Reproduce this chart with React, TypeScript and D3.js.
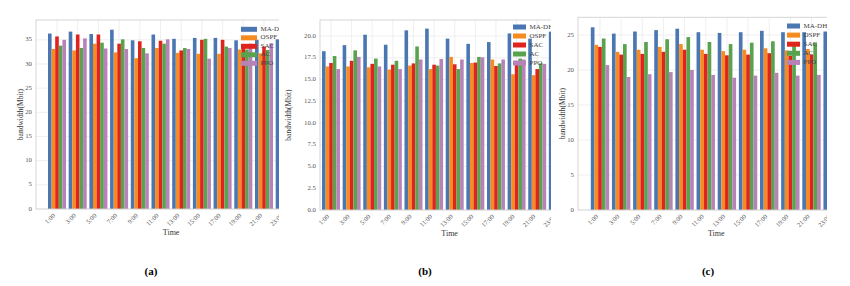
import React from 'react';
import * as d3 from 'd3';

const categories = ["1:00", "3:00", "5:00", "7:00", "9:00", "11:00", "13:00", "15:00", "17:00", "19:00", "21:00", "23:00"];
const seriesNames = ["MA-DH", "OSPF", "SAC", "AC", "PPO"];
const colors = ["#4a77b2", "#f68b1f", "#e0231c", "#59a34f", "#b782b8"];

// Panel (a)
const maDH_a = [36.3, 36.7, 36.2, 37.1, 34.9, 36.1, 35.2, 35.4, 35.4, 34.9, 35.0, 35.1];
const ospf_a = [33.1, 32.8, 34.2, 32.4, 31.2, 33.3, 32.3, 32.1, 32.1, 33.0, 32.2, 32.5];
const sac_a = [35.7, 36.1, 36.1, 34.2, 34.7, 34.8, 32.8, 35.0, 35.0, 33.6, 33.6, 34.0];
const ac_a = [33.8, 33.3, 34.4, 35.1, 33.3, 34.2, 33.3, 35.2, 33.6, 33.0, 32.9, 33.5];
const ppo_a = [35.0, 35.3, 33.2, 33.1, 32.2, 35.1, 33.1, 31.1, 33.3, 34.2, 34.3, 33.8];

// Panel (b)
const maDH_b = [18.25, 18.95, 20.15, 19.0, 20.65, 20.85, 19.7, 19.1, 19.3, 20.3, 19.7, 20.5];
const ospf_b = [16.5, 16.5, 16.4, 16.15, 16.6, 16.2, 17.6, 16.9, 17.3, 15.6, 15.5, 16.0];
const sac_b = [16.9, 17.15, 16.8, 16.7, 16.85, 16.7, 16.75, 16.95, 16.55, 16.7, 16.2, 16.5];
const ac_b = [17.7, 18.35, 17.4, 17.15, 18.8, 16.6, 16.2, 17.6, 16.85, 17.4, 16.85, 17.0];
const ppo_b = [16.2, 17.6, 16.5, 16.2, 17.3, 17.35, 17.3, 17.55, 17.3, 17.3, 16.8, 17.0];

// Panel (c)
const maDH_c = [26.1, 25.2, 25.5, 25.7, 25.9, 25.4, 25.3, 25.4, 25.6, 25.4, 25.4, 25.5];
const ospf_c = [23.6, 22.6, 22.9, 23.3, 23.7, 22.9, 22.7, 22.9, 23.1, 22.8, 23.0, 22.9];
const sac_c = [23.3, 22.2, 22.3, 22.6, 22.9, 22.3, 22.1, 22.2, 22.4, 22.0, 22.2, 22.3];
const ac_c = [24.5, 23.7, 24.0, 24.4, 24.7, 24.0, 23.7, 23.9, 24.1, 23.6, 23.9, 24.0];
const ppo_c = [20.7, 19.0, 19.4, 19.7, 20.0, 19.3, 18.9, 19.2, 19.6, 19.2, 19.3, 19.4];

const yTicksA = [0, 5, 10, 15, 20, 25, 30, 35];
const yTicksB = [0, 2.5, 5, 7.5, 10, 12.5, 15, 17.5, 20];
const yTicksC = [0, 5, 10, 15, 20, 25];

const yLabelText = "bandwidth(Mbit)";
const xLabelText = "Time";

const FONT = "'Liberation Serif', 'Times New Roman', serif";

const panels = [
  {
    id: "a", tag: "(a)", series: [maDH_a, ospf_a, sac_a, ac_a, ppo_a], yMax: 39.1, yTicks: yTicksA, fmt: d3.format("d"),
    left: 36, top: 20, bottom: 209, c0: 57, step: 20.7, clipL: 0, clipR: 279,
    yLabelX: 21, tagX: 151, legendX: 241, legendY: 29.3, legendDy: 8.5, patchW: 16,
  },
  {
    id: "b", tag: "(b)", series: [maDH_b, ospf_b, sac_b, ac_b, ppo_b], yMax: 21.84, yTicks: yTicksB, fmt: d3.format(".1f"),
    left: 320, top: 20, bottom: 210, c0: 331, step: 20.62, clipL: 282, clipR: 551,
    yLabelX: 289.5, tagX: 425, legendX: 513, legendY: 27, legendDy: 9, patchW: 13,
  },
  {
    id: "c", tag: "(c)", series: [maDH_c, ospf_c, sac_c, ac_c, ppo_c], yMax: 27.53, yTicks: yTicksC, fmt: d3.format("d"),
    left: 578, top: 17.3, bottom: 210, c0: 600, step: 21.15, clipL: 556, clipR: 827,
    yLabelX: 563, tagX: 708, legendX: 787, legendY: 26, legendDy: 9.1, patchW: 13,
  },
];

function Panel({ p }: { p: any }) {
  const x = d3.scaleBand<string>()
    .domain(categories)
    .range([p.c0 - p.step / 2, p.c0 - p.step / 2 + categories.length * p.step])
    .padding(0);
  const groupW = p.step * 0.87;
  const xi = d3.scaleBand<string>().domain(seriesNames).range([-groupW / 2, groupW / 2]).padding(0);
  const y = d3.scaleLinear().domain([0, p.yMax]).range([p.bottom, p.top]);
  const right = p.c0 + 12.04 * p.step;
  const center = (c: string) => (x(c) as number) + x.bandwidth() / 2;
  const plotMidY = (p.top + p.bottom) / 2;
  const xLabelX = (p.left + right) / 2;

  return (
    <g>
      <defs>
        <clipPath id={`clip-${p.id}`}>
          <rect x={p.clipL} y={0} width={p.clipR - p.clipL} height={262} />
        </clipPath>
      </defs>
      <g clipPath={`url(#clip-${p.id})`}>
        {/* grid */}
        {p.yTicks.map((t: number) => (
          <line key={`gy${t}`} x1={p.left} x2={right} y1={y(t)} y2={y(t)} stroke="#ebebeb" strokeWidth={0.8} />
        ))}
        {categories.map((c) => (
          <line key={`gx${c}`} x1={center(c)} x2={center(c)} y1={p.top} y2={p.bottom} stroke="#ebebeb" strokeWidth={0.8} />
        ))}
        {/* bars */}
        {seriesNames.map((s, si) => (
          <g key={s}>
            {categories.map((c, ci) => (
              <rect
                key={c}
                x={center(c) + (xi(s) as number)}
                y={y(p.series[si][ci])}
                width={xi.bandwidth()}
                height={p.bottom - y(p.series[si][ci])}
                fill={colors[si]}
              />
            ))}
          </g>
        ))}
        {/* spines */}
        <rect x={p.left} y={p.top} width={right - p.left} height={p.bottom - p.top} fill="none" stroke="#d2d2d2" strokeWidth={0.9} />
        {/* x tick labels */}
        {categories.map((c) => {
          const px = center(c) - 2.5;
          const py = p.bottom + 6;
          return (
            <text key={`xt${c}`} x={px} y={py} transform={`rotate(-45 ${px} ${py})`} textAnchor="end"
              dominantBaseline="middle" fontSize={6.5} fill="#555" fontFamily={FONT}>{c}</text>
          );
        })}
        {/* y tick labels */}
        {p.yTicks.map((t: number) => (
          <text key={`yt${t}`} x={p.left - 4} y={y(t)} textAnchor="end" dominantBaseline="middle"
            fontSize={6.8} fill="#555" fontFamily={FONT}>{p.fmt(t)}</text>
        ))}
        {/* axis labels */}
        <text x={p.yLabelX} y={plotMidY} transform={`rotate(-90 ${p.yLabelX} ${plotMidY})`} textAnchor="middle"
          dominantBaseline="middle" fontSize={7.5} fill="#333" fontFamily={FONT}>{yLabelText}</text>
        <text x={xLabelX} y={p.bottom + 26} textAnchor="middle" fontSize={8} fill="#333" fontFamily={FONT}>{xLabelText}</text>
        {/* legend */}
        {seriesNames.map((s, si) => (
          <g key={`lg${s}`}>
            <rect x={p.legendX} y={p.legendY + si * p.legendDy - 2.5} width={p.patchW} height={5} fill={colors[si]} />
            <text x={p.legendX + p.patchW + 3.5} y={p.legendY + si * p.legendDy} dominantBaseline="middle"
              fontSize={7} fill="#444" fontFamily={FONT}>{s}</text>
          </g>
        ))}
      </g>
      <text x={p.tagX} y={275} textAnchor="middle" fontSize={11} fontWeight="bold" fill="#000" fontFamily={FONT}>{p.tag}</text>
    </g>
  );
}

export default function App() {
  return (
    <svg width={850} height={286} style={{ position: "absolute", left: 0, top: 0, background: "#fff" }}>
      <rect x={0} y={0} width={850} height={286} fill="#fff" />
      {panels.map((p) => (
        <Panel key={p.id} p={p} />
      ))}
    </svg>
  );
}
